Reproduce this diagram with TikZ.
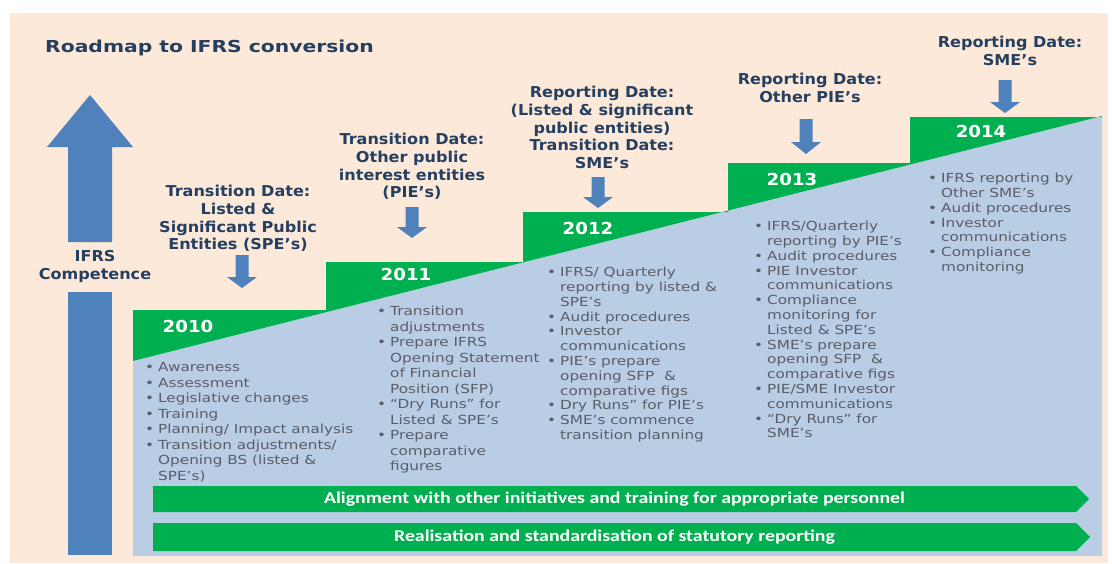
\documentclass[tikz,border=0pt]{standalone}
\usepackage{fontspec}
\newfontfamily\ttlfont[FakeStretch=1.23]{DejaVu Sans}
\newfontfamily\hdfont[FakeStretch=1.07]{DejaVu Sans}
\newfontfamily\yrfont[FakeStretch=1.1]{DejaVu Sans}
\newfontfamily\lsfont[FakeStretch=1.22]{DejaVu Sans}
\newfontfamily\bnfont[FakeStretch=1.2]{Carlito}
\definecolor{peach}{HTML}{FDE9D9}
\definecolor{paleblue}{HTML}{B9CDE5}
\definecolor{stepgreen}{HTML}{00B050}
\definecolor{arrowblue}{HTML}{4F81BD}
\definecolor{darktext}{HTML}{243F60}
\definecolor{listgray}{HTML}{5A5E66}
\newcommand\lbul{\makebox[13pt][l]{\textbullet}}
\newcommand\lcon{\hspace*{13pt}}
\newcommand\dnarrow[4]{\fill[arrowblue] (#1-6.5,#2) -- (#1+6.5,#2) -- (#1+6.5,#3) -- (#1+15,#3) -- (#1,#4) -- (#1-15,#3) -- (#1-6.5,#3) -- cycle;}
\tikzset{
  title/.style={anchor=base west, inner sep=0, text=darktext, font=\ttlfont\bfseries\fontsize{16.5}{18}\selectfont},
  header/.style={anchor=base, inner sep=0, text=darktext, font=\hdfont\bfseries\fontsize{15}{17.8}\selectfont},
  year/.style={anchor=base, inner sep=0, text=white, font=\yrfont\bfseries\fontsize{16.5}{18}\selectfont},
  listA/.style={anchor=base west, inner sep=0, text=listgray, font=\lsfont\fontsize{12.5}{15.5}\selectfont},
  listB/.style={anchor=base west, inner sep=0, text=listgray, font=\lsfont\fontsize{12.5}{14.8}\selectfont},
  banner/.style={inner sep=0, text=white, font=\bnfont\bfseries\fontsize{16.5}{18}\selectfont}
}
\begin{document}
\begin{tikzpicture}[x=1pt,y=-1pt]
\useasboundingbox (0,0) rectangle (1112,563);
\fill[white] (0,0) rectangle (1112,563);
\fill[peach] (10,13) rectangle (1108,563);
% light blue area below the diagonal
\fill[paleblue] (133,556) -- (133,361) -- (1102,116) -- (1102,556) -- cycle;
% green staircase
\fill[stepgreen] (133,361) -- (133,310) -- (326,310) -- (326,262) -- (523,262) -- (523,212)
  -- (728,212) -- (728,163) -- (910,163) -- (910,117) -- (1102,117) -- (1102,116) -- cycle;
% big competence arrow
\fill[arrowblue] (90,95) -- (133,147) -- (112,147) -- (112,242) -- (68,242) -- (68,147) -- (47,147) -- cycle;
\fill[arrowblue] (68,292) rectangle (112,555);
\node[header] (comp) at (95,261.5) {\begin{tabular}[t]{@{}c@{}}IFRS\\Competence\end{tabular}};
% title
\node[title] (title) at (45,52) {Roadmap to IFRS conversion};
% headers
\node[header] (h1) at (238,196.5) {\begin{tabular}[t]{@{}c@{}}Transition Date:\\Listed \&\\Significant Public\\Entities (SPE’s)\end{tabular}};
\node[header] (h2) at (412,144.5) {\begin{tabular}[t]{@{}c@{}}Transition Date:\\Other public\\interest entities\\(PIE’s)\end{tabular}};
\node[header] (h3) at (602,97.5) {\begin{tabular}[t]{@{}c@{}}Reporting Date:\\(Listed \& significant\\public entities)\\Transition Date:\\SME’s\end{tabular}};
\node[header] (h4) at (810,84.5) {\begin{tabular}[t]{@{}c@{}}Reporting Date:\\Other PIE’s\end{tabular}};
\node[header] (h5) at (1010,47.5) {\begin{tabular}[t]{@{}c@{}}Reporting Date:\\SME’s\end{tabular}};
% down arrows
\dnarrow{242}{255}{277}{288}
\dnarrow{412}{207}{227}{238}
\dnarrow{598}{177}{197}{208}
\dnarrow{806}{119}{142}{154}
\dnarrow{1005}{80}{102}{113}
% years
\node[year] (y2010) at (188,332) {2010};
\node[year] (y2011) at (406,280) {2011};
\node[year] (y2012) at (588,234) {2012};
\node[year] (y2013) at (792,185) {2013};
\node[year] (y2014) at (981,137) {2014};
% lists
\node[listA] (l2010) at (145,371.7) {\begin{tabular}[t]{@{}l@{}}
\lbul Awareness\\
\lbul Assessment\\
\lbul Legislative changes\\
\lbul Training\\
\lbul Planning/ Impact analysis\\
\lbul Transition adjustments/\\
\lcon Opening BS (listed \&\\
\lcon SPE’s)\end{tabular}};
\node[listA] (l2011) at (377,315.7) {\begin{tabular}[t]{@{}l@{}}
\lbul Transition\\
\lcon adjustments\\
\lbul Prepare IFRS\\
\lcon Opening Statement\\
\lcon of Financial\\
\lcon Position (SFP)\\
\lbul “Dry Runs” for\\
\lcon Listed \& SPE’s\\
\lbul Prepare\\
\lcon comparative\\
\lcon figures\end{tabular}};
\node[listB] (l2012) at (547,276.7) {\begin{tabular}[t]{@{}l@{}}
\lbul IFRS/ Quarterly\\
\lcon reporting by listed \&\\
\lcon SPE’s\\
\lbul Audit procedures\\
\lbul Investor\\
\lcon communications\\
\lbul PIE’s prepare\\
\lcon opening SFP\ \ \&\\
\lcon comparative figs\\
\lbul Dry Runs” for PIE’s\\
\lbul SME’s commence\\
\lcon transition planning\end{tabular}};
\node[listB] (l2013) at (754,230.7) {\begin{tabular}[t]{@{}l@{}}
\lbul IFRS/Quarterly\\
\lcon reporting by PIE’s\\
\lbul Audit procedures\\
\lbul PIE Investor\\
\lcon communications\\
\lbul Compliance\\
\lcon monitoring for\\
\lcon Listed \& SPE’s\\
\lbul SME’s prepare\\
\lcon opening SFP\ \ \&\\
\lcon comparative figs\\
\lbul PIE/SME Investor\\
\lcon communications\\
\lbul “Dry Runs” for\\
\lcon SME’s\end{tabular}};
\node[listB] (l2014) at (928,182.7) {\begin{tabular}[t]{@{}l@{}}
\lbul IFRS reporting by\\
\lcon Other SME’s\\
\lbul Audit procedures\\
\lbul Investor\\
\lcon communications\\
\lbul Compliance\\
\lcon monitoring\end{tabular}};
% banners
\fill[stepgreen] (153,486) -- (1076,486) -- (1089,499) -- (1076,512) -- (153,512) -- cycle;
\fill[stepgreen] (153,523) -- (1076,523) -- (1090,537) -- (1076,551) -- (153,551) -- cycle;
\node[banner] (b1) at (614.5,499) {Alignment with other initiatives and training for appropriate personnel};
\node[banner] (b2) at (614.5,537) {Realisation and standardisation of statutory reporting};
\end{tikzpicture}
\end{document}
